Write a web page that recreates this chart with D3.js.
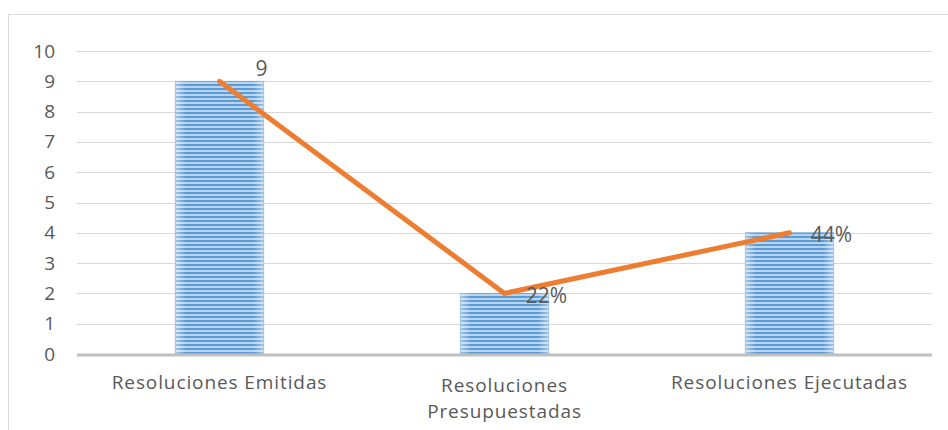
<!DOCTYPE html>
<html>
<head>
<meta charset="utf-8">
<script src="https://cdn.jsdelivr.net/npm/d3@7"></script>
<style>
    body { margin: 0; background: #fff; }
    svg text { font-family: "Open Sans", "Noto Sans", sans-serif; fill: #595959; }
</style>
</head>
<body>
<div id="chart"></div>
<script>
// chart data
const categories = ["Resoluciones Emitidas", "Resoluciones Presupuestadas", "Resoluciones Ejecutadas"];
const barValues = [9, 2, 4];
const lineValues = [9, 2, 4];
const pointLabels = ["9", "22%", "44%"];
const yTicks = [0, 1, 2, 3, 4, 5, 6, 7, 8, 9, 10];

let w = 948, h = 430;
let margin = {top: 51, right: 16, bottom: 76, left: 77};

let svg = d3.select("#chart")
    .append("svg")
    .attr("width", w)
    .attr("height", h);

// outer border
svg.append("rect")
    .attr("x", 8.5).attr("y", 14.5)
    .attr("width", w).attr("height", h)
    .attr("fill", "none")
    .attr("stroke", "#d9d9d9");

let defs = svg.append("defs");

let pat = defs.append("pattern")
    .attr("id", "stripes")
    .attr("patternUnits", "userSpaceOnUse")
    .attr("width", 8).attr("height", 4);
pat.append("rect").attr("width", 8).attr("height", 4).attr("fill", "#b9d4ef");
pat.append("rect").attr("width", 8).attr("height", 2).attr("fill", "#5b9bd5");

let grad = defs.append("linearGradient")
    .attr("id", "edge")
    .attr("x1", "0").attr("x2", "1").attr("y1", "0").attr("y2", "0");
grad.append("stop").attr("offset", "0").attr("stop-color", "#fff").attr("stop-opacity", 0.45);
grad.append("stop").attr("offset", "0.12").attr("stop-color", "#fff").attr("stop-opacity", 0);
grad.append("stop").attr("offset", "0.88").attr("stop-color", "#fff").attr("stop-opacity", 0);
grad.append("stop").attr("offset", "1").attr("stop-color", "#fff").attr("stop-opacity", 0.45);

let x = d3.scaleBand()
    .domain(categories)
    .range([margin.left, w - margin.right])
    .paddingInner(0.69)
    .paddingOuter(0.345);

let y = d3.scaleLinear()
    .domain([0, 10])
    .range([h - margin.bottom, margin.top]);

let cx = d => x(d) + x.bandwidth() / 2;

// gridlines
svg.append("g")
    .selectAll("line")
    .data(yTicks.slice(1))
    .enter()
    .append("line")
    .attr("x1", margin.left).attr("x2", w - margin.right)
    .attr("y1", d => Math.round(y(d)) + 0.5)
    .attr("y2", d => Math.round(y(d)) + 0.5)
    .attr("stroke", "#d9d9d9")
    .attr("stroke-width", 1);

// y axis labels
let yaxis = svg.append("g")
    .attr("transform", "translate(" + (margin.left - 22) + ",0)")
    .call(d3.axisLeft(y).tickValues(yTicks).tickSize(0).tickPadding(0));
yaxis.select(".domain").remove();
yaxis.selectAll("text")
    .style("font-size", "19px")
    .attr("fill", "#595959");

// bars
svg.append("g")
    .selectAll("rect")
    .data(barValues)
    .enter()
    .append("rect")
    .attr("x", (d, i) => x(categories[i]))
    .attr("y", d => y(d))
    .attr("width", x.bandwidth())
    .attr("height", d => y(0) - y(d))
    .attr("fill", "url(#stripes)")
    .attr("stroke", "#6fa6da")
    .attr("stroke-width", 0.8);

svg.append("g")
    .selectAll("rect")
    .data(barValues)
    .enter()
    .append("rect")
    .attr("x", (d, i) => x(categories[i]))
    .attr("y", d => y(d))
    .attr("width", x.bandwidth())
    .attr("height", d => y(0) - y(d))
    .attr("fill", "url(#edge)");

// x axis line
svg.append("line")
    .attr("x1", margin.left).attr("x2", w - margin.right)
    .attr("y1", y(0) + 1).attr("y2", y(0) + 1)
    .attr("stroke", "#bfbfbf")
    .attr("stroke-width", 3);

// line
let line = d3.line()
    .x((d, i) => cx(categories[i]))
    .y(d => y(d));

svg.append("path")
    .datum(lineValues)
    .attr("d", line)
    .attr("fill", "none")
    .attr("stroke", "#ed7d31")
    .attr("stroke-width", 5)
    .attr("stroke-linecap", "round")
    .attr("stroke-linejoin", "round");

// data labels (first one nudged up, like the original)
let labelDy = [-5, 10, 9];
svg.append("g")
    .selectAll("text")
    .data(lineValues)
    .enter()
    .append("text")
    .attr("x", (d, i) => cx(categories[i]) + 42)
    .attr("y", (d, i) => y(d) + labelDy[i])
    .attr("text-anchor", "middle")
    .style("font-size", "21px")
    .attr("fill", "#404040")
    .text((d, i) => pointLabels[i]);

// category labels
let catLines = [["Resoluciones Emitidas"], ["Resoluciones", "Presupuestadas"], ["Resoluciones Ejecutadas"]];
let cats = svg.append("g")
    .selectAll("text")
    .data(categories)
    .enter()
    .append("text")
    .attr("x", d => cx(d))
    .attr("y", (d, i) => h - margin.bottom + (catLines[i].length > 1 ? 38 : 35))
    .attr("text-anchor", "middle")
    .style("font-size", "19px")
    .style("letter-spacing", "0.9px");
cats.each(function (d, i) {
    d3.select(this).selectAll("tspan")
        .data(catLines[i])
        .enter()
        .append("tspan")
        .attr("x", cx(d))
        .attr("dy", (t, j) => j === 0 ? 0 : 26)
        .text(t => t);
});
</script>
</body>
</html>
